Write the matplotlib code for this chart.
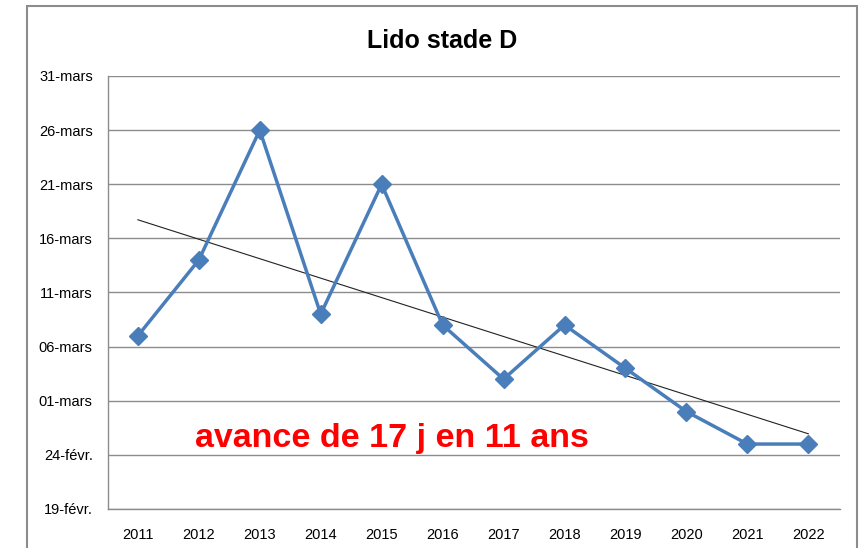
import matplotlib

matplotlib.use('Agg')
import matplotlib.pyplot as plt
import numpy as np
from matplotlib.patches import Rectangle

# days counted from 19 February
years = ['2011', '2012', '2013', '2014', '2015', '2016',
         '2017', '2018', '2019', '2020', '2021', '2022']
days = [16, 23, 35, 18, 30, 17, 12, 17, 13, 9, 6, 6]
tick_days = [0, 5, 10, 15, 20, 25, 30, 35, 40]
tick_labels = ['19-févr.', '24-févr.', '01-mars', '06-mars', '11-mars',
               '16-mars', '21-mars', '26-mars', '31-mars']

plt.rcParams['font.family'] = ['Liberation Sans', 'DejaVu Sans']

fig = plt.figure(figsize=(8.66, 5.48), dpi=100)
ax = fig.add_axes([108 / 866, 39 / 548, 732 / 866, 433 / 548])

x = np.arange(len(years))
ax.plot(x, days, color='#4a7ebb', linewidth=2.5, marker='D',
        markersize=9, zorder=3)

# linear trend
coef = np.polyfit(x, days, 1)
ax.plot(x, np.polyval(coef, x), color='#222222', linewidth=0.8, zorder=2)

ax.set_xlim(-0.49, 11.52)
ax.set_ylim(0, 40)
ax.set_xticks(x)
ax.set_xticklabels(years, fontsize=10.5)
ax.set_yticks(tick_days)
ax.set_yticklabels(tick_labels, fontsize=10.5)
ax.tick_params(length=0)
ax.tick_params(axis='y', pad=11)
ax.tick_params(axis='x', pad=14)
ax.grid(axis='y', color='#8c8c8c', linewidth=1)
ax.set_axisbelow(True)
for s in ['top', 'right']:
    ax.spines[s].set_visible(False)
for s in ['left', 'bottom']:
    ax.spines[s].set_color('#8c8c8c')
    ax.spines[s].set_linewidth(1)

fig.text(442 / 866, 1 - 48 / 548, 'Lido stade D', fontsize=18,
         fontweight='bold', ha='center', va='baseline')
ax.text(0.93, 5.73, 'avance de 17 j en 11 ans', fontsize=24.5,
        fontweight='bold', color='#ff0000', ha='left', va='baseline')

# outer chart frame
fig.patches.append(Rectangle((27 / 866, -0.05), 830 / 866, 1.05 - 6 / 548,
                             transform=fig.transFigure, fill=False,
                             edgecolor='#8c8c8c', linewidth=1.5))

fig.savefig('out.png', dpi=100)
